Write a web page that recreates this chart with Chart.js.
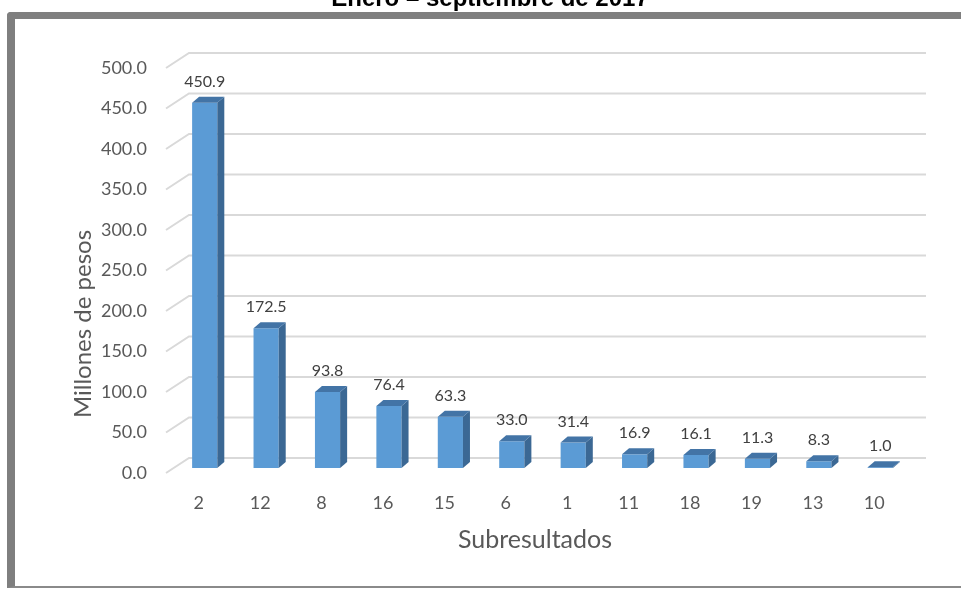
<!DOCTYPE html>
<html>
<head>
<meta charset="utf-8">
<script src="https://cdn.jsdelivr.net/npm/chart.js@4"></script>
<style>
  body { margin: 0; background: #fff; }
  #marco {
    position: absolute; left: 7px; top: 12px; width: 1000px; height: 567px;
    border-top: 7px solid #7f7f7f; border-left: 8px solid #7f7f7f; border-bottom: 2px solid #8a8a8a;
    border-radius: 4px 0 0 0;
  }
  #grafico { position: absolute; left: 0; top: 0; }
</style>
</head>
<body>
<div id="marco"></div>
<canvas id="grafico" width="961" height="589"></canvas>
<script>
const categorias = ['2', '12', '8', '16', '15', '6', '1', '11', '18', '19', '13', '10'];
const valores = [450.9, 172.5, 93.8, 76.4, 63.3, 33.0, 31.4, 16.9, 16.1, 11.3, 8.3, 1.0];
const titulo = 'Enero \u2013 septiembre de 2017';
const tituloY = 'Millones de pesos';
const tituloX = 'Subresultados';

const fuente = 'Lato, "Open Sans", sans-serif';
const gris = '#595959';

// profundidad del efecto 3D
const dx = 7, dy = 6;

const efecto3d = {
    id: 'efecto3d',
    beforeDatasetsDraw(chart) {
        const ctx = chart.ctx;
        const y = chart.scales.y;
        const a = chart.chartArea;
        ctx.save();
        ctx.strokeStyle = '#d9d9d9';
        ctx.lineWidth = 2;
        y.ticks.forEach(t => {
            const py = y.getPixelForValue(t.value);
            ctx.beginPath();
            ctx.moveTo(a.left - 8, py + 5);
            ctx.lineTo(a.left + 15, py - 10);
            ctx.lineTo(a.right + 15, py - 10);
            ctx.stroke();
        });
        ctx.restore();
    },
    afterDatasetsDraw(chart) {
        const ctx = chart.ctx;
        const meta = chart.getDatasetMeta(0);
        ctx.save();
        meta.data.forEach((barra, i) => {
            const w = barra.width / 2;
            const izq = barra.x - w, der = barra.x + w;
            const arriba = barra.y, base = barra.base;
            // lado
            ctx.fillStyle = '#3b6894';
            ctx.beginPath();
            ctx.moveTo(der, arriba);
            ctx.lineTo(der + dx, arriba - dy);
            ctx.lineTo(der + dx, base - dy);
            ctx.lineTo(der, base);
            ctx.closePath();
            ctx.fill();
            // tapa
            ctx.fillStyle = '#4374a6';
            ctx.beginPath();
            ctx.moveTo(izq, arriba);
            ctx.lineTo(izq + dx, arriba - dy);
            ctx.lineTo(der + dx, arriba - dy);
            ctx.lineTo(der, arriba);
            ctx.closePath();
            ctx.fill();
            // etiqueta
            ctx.fillStyle = '#404040';
            ctx.font = '16px ' + fuente;
            ctx.textAlign = 'center';
            ctx.textBaseline = 'middle';
            ctx.fillText(valores[i].toFixed(1), barra.x, arriba - 21);
        });
        ctx.restore();
    },
    afterDraw(chart) {
        const ctx = chart.ctx;
        ctx.save();
        ctx.fillStyle = gris;
        ctx.font = '25px ' + fuente;
        ctx.textAlign = 'center';
        ctx.textBaseline = 'middle';
        ctx.fillText(tituloX, 535, 540);
        ctx.font = '24px ' + fuente;
        ctx.translate(83, 324);
        ctx.rotate(-Math.PI / 2);
        ctx.fillText(tituloY, 0, 0);
        ctx.restore();
        ctx.save();
        ctx.fillStyle = '#000';
        ctx.font = 'bold 24px "Liberation Sans", Arial, sans-serif';
        ctx.textAlign = 'center';
        ctx.textBaseline = 'alphabetic';
        ctx.fillText(titulo, 490, 6);
        ctx.restore();
    }
};

const grafico = new Chart(document.getElementById('grafico').getContext('2d'), {
    type: 'bar',
    data: {
        labels: categorias,
        datasets: [{
            data: valores,
            backgroundColor: '#5b9bd5',
            borderWidth: 0,
            categoryPercentage: 1,
            barPercentage: 0.41
        }]
    },
    options: {
        responsive: false,
        animation: false,
        layout: { padding: { left: 0, right: 50, top: 63, bottom: 61 } },
        plugins: { legend: { display: false }, tooltip: { enabled: false } },
        scales: {
            x: {
                grid: { display: false, drawTicks: false },
                border: { display: false },
                ticks: { color: gris, font: { family: fuente, size: 18 }, padding: 24, labelOffset: -6 },
                afterFit(s) { s.height = 60; }
            },
            y: {
                min: 0,
                max: 500,
                grid: { display: false, drawTicks: false },
                border: { display: false },
                ticks: {
                    stepSize: 50,
                    color: gris,
                    font: { family: fuente, size: 18 },
                    padding: 27,
                    labelOffset: 5,
                    callback: v => v.toFixed(1)
                },
                afterFit(s) { s.width = 174; }
            }
        }
    },
    plugins: [efecto3d]
});
</script>
</body>
</html>
